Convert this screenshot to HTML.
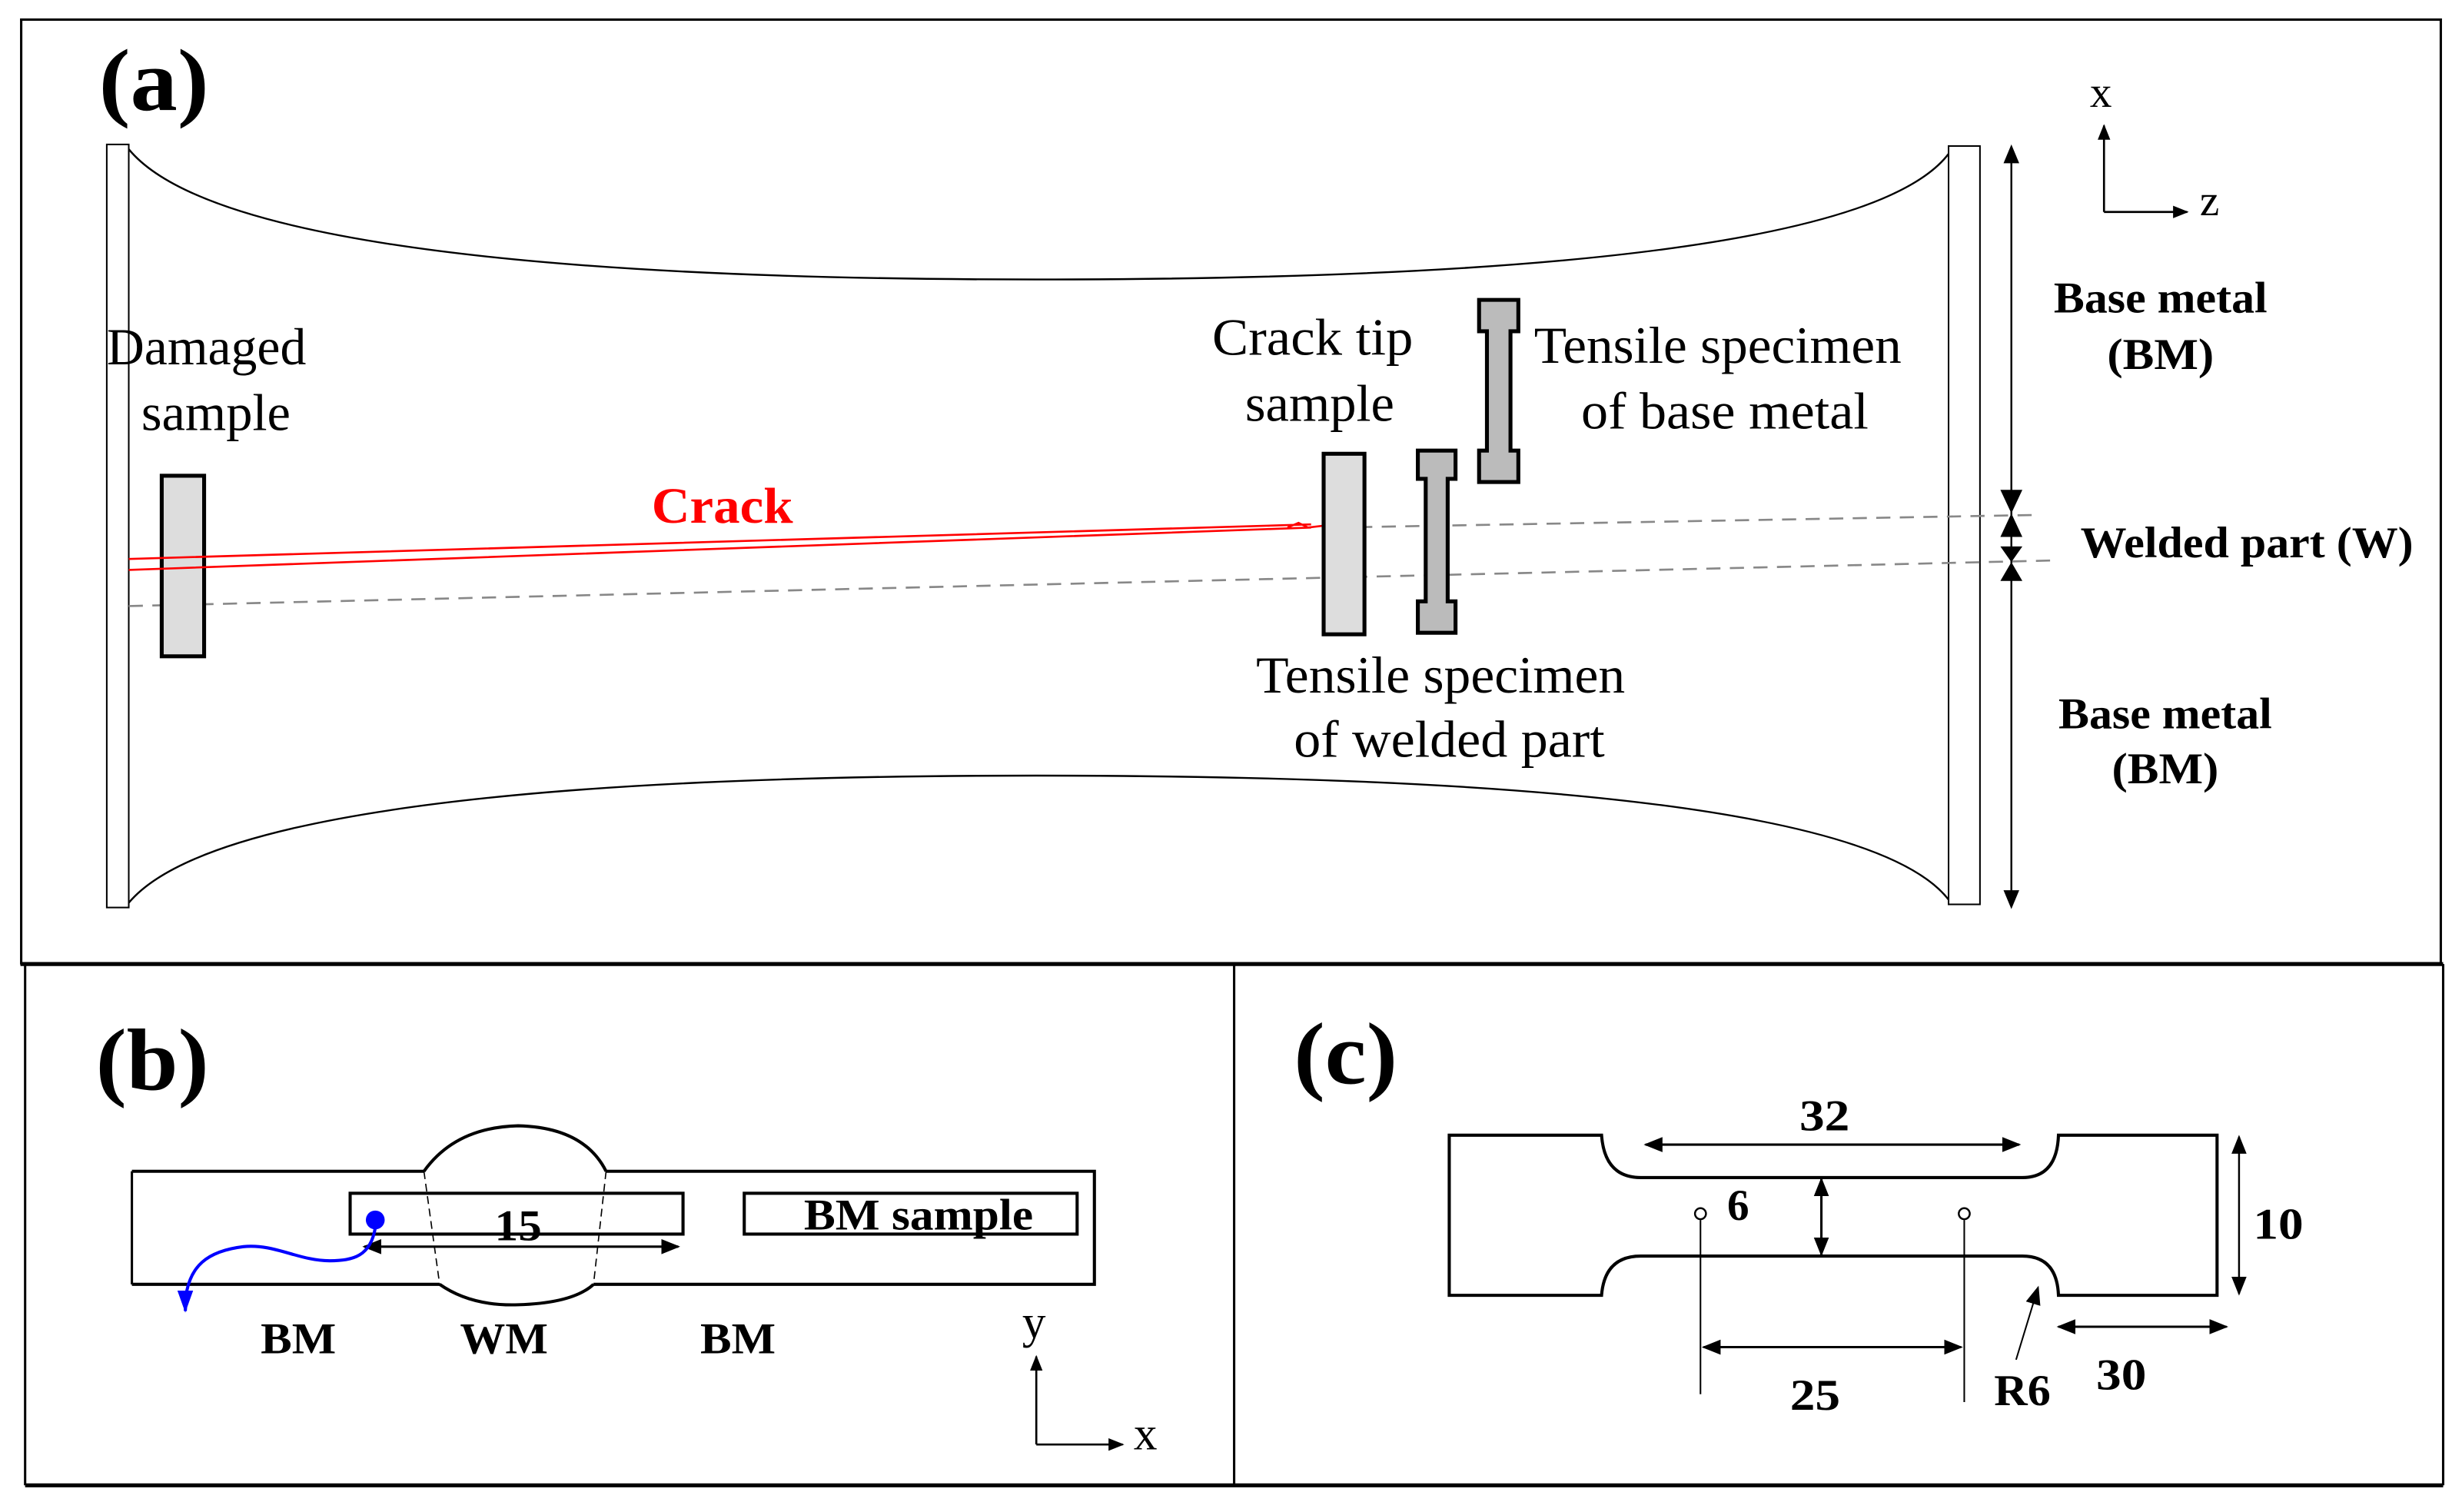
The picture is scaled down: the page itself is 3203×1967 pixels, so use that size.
<!DOCTYPE html>
<html><head><meta charset="utf-8"><style>
html,body{margin:0;padding:0;background:#fff;}
svg{display:block;}
text{font-family:"Liberation Serif",serif;}
.b{font-weight:bold;}
</style></head><body>
<svg width="3203" height="1967" viewBox="0 0 1568 963" preserveAspectRatio="none" xmlns="http://www.w3.org/2000/svg">
<defs>
<marker id="ah" viewBox="0 0 10 10" refX="9" refY="5" markerWidth="12" markerHeight="12" markerUnits="userSpaceOnUse" orient="auto-start-reverse"><path d="M0,1 L10,5 L0,9 Z" fill="#000"/></marker>
<marker id="ahs" viewBox="0 0 10 10" refX="9" refY="5" markerWidth="10" markerHeight="10" markerUnits="userSpaceOnUse" orient="auto-start-reverse"><path d="M0,1 L10,5 L0,9 Z" fill="#000"/></marker>
</defs>
<rect width="1568" height="963" fill="#fff"/>
<!-- panel a -->
<rect x="13.5" y="12.5" width="1541" height="601" fill="none" stroke="#000" stroke-width="1.5"/>
<line x1="13" y1="614" x2="1556" y2="614" stroke="#000" stroke-width="2.5"/>
<text x="63" y="70" font-size="56" class="b" textLength="70" lengthAdjust="spacingAndGlyphs">(a)</text>
<rect x="68" y="92" width="14" height="486" fill="#fff" stroke="#000" stroke-width="1"/>
<rect x="1241" y="93" width="20" height="483" fill="#fff" stroke="#000" stroke-width="1"/>
<path d="M82,95 Q150,178 660,178 Q1180,178 1241,98" fill="none" stroke="#000" stroke-width="1.2"/>
<path d="M82,575 Q150,494 660,494 Q1180,494 1241,573" fill="none" stroke="#000" stroke-width="1.2"/>
<line x1="82" y1="386" x2="1306" y2="357" stroke="#888" stroke-width="1.3" stroke-dasharray="9,6"/>
<line x1="850" y1="336" x2="1296" y2="328" stroke="#888" stroke-width="1.3" stroke-dasharray="9,6"/>
<rect x="103" y="303" width="27" height="115" fill="#ddd" stroke="#000" stroke-width="2.5"/>
<path d="M82,356 L835,334 M82,363 L835,336 M820,336 L827,333 L833,336 L850,334" fill="none" stroke="#f00" stroke-width="1.3"/>
<text x="415" y="333" font-size="32" class="b" fill="#f00" textLength="90" lengthAdjust="spacingAndGlyphs">Crack</text>
<text x="68" y="232" font-size="33" textLength="127" lengthAdjust="spacingAndGlyphs">Damaged</text>
<text x="90" y="274" font-size="33" textLength="95" lengthAdjust="spacingAndGlyphs">sample</text>
<rect x="843" y="289" width="26" height="115" fill="#ddd" stroke="#000" stroke-width="2.5"/>
<path d="M903,287 H927 V305 H922 V383 H927 V403 H903 V383 H908 V305 H903 Z" fill="#bbb" stroke="#000" stroke-width="2.5"/>
<path d="M942,191 H967 V211 H962 V287 H967 V307 H942 V287 H947 V211 H942 Z" fill="#bbb" stroke="#000" stroke-width="2.5"/>
<text x="772" y="226" font-size="33" textLength="128" lengthAdjust="spacingAndGlyphs">Crack  tip</text>
<text x="793" y="268" font-size="33" textLength="95" lengthAdjust="spacingAndGlyphs">sample</text>
<text x="977" y="231" font-size="33" textLength="234" lengthAdjust="spacingAndGlyphs">Tensile specimen</text>
<text x="1007" y="273" font-size="33" textLength="183" lengthAdjust="spacingAndGlyphs">of base metal</text>
<text x="800" y="441" font-size="33" textLength="235" lengthAdjust="spacingAndGlyphs">Tensile specimen</text>
<text x="824" y="482" font-size="33" textLength="198" lengthAdjust="spacingAndGlyphs">of welded part</text>
<!-- dimension bar -->
<line x1="1281" y1="95" x2="1281" y2="576" stroke="#000" stroke-width="1.2"/>
<path d="M1281,92 L1276,104 L1286,104 Z M1281,579 L1276,567 L1286,567 Z" fill="#000"/>
<path d="M1274,312 L1288,312 L1281,327 Z M1274,342 L1288,342 L1281,327 Z M1274,348 L1288,348 L1281,358 Z M1274,370 L1288,370 L1281,358 Z" fill="#000"/>
<!-- axes -->
<line x1="1340" y1="135" x2="1340" y2="80" stroke="#000" stroke-width="1.3" marker-end="url(#ahs)"/>
<line x1="1340" y1="135" x2="1393" y2="135" stroke="#000" stroke-width="1.3" marker-end="url(#ahs)"/>
<text x="1331" y="68" font-size="28">x</text>
<text x="1401" y="137" font-size="28">z</text>
<text x="1376" y="199" font-size="28" class="b" text-anchor="middle" textLength="136" lengthAdjust="spacingAndGlyphs">Base metal</text>
<text x="1376" y="235" font-size="28" class="b" text-anchor="middle" textLength="68" lengthAdjust="spacingAndGlyphs">(BM)</text>
<text x="1431" y="355" font-size="28" class="b" text-anchor="middle" textLength="212" lengthAdjust="spacingAndGlyphs">Welded part (W)</text>
<text x="1379" y="464" font-size="28" class="b" text-anchor="middle" textLength="136" lengthAdjust="spacingAndGlyphs">Base metal</text>
<text x="1379" y="499" font-size="28" class="b" text-anchor="middle" textLength="68" lengthAdjust="spacingAndGlyphs">(BM)</text>
<!-- panels b, c -->
<line x1="16" y1="614" x2="16" y2="946" stroke="#000" stroke-width="1.5"/>
<line x1="786" y1="614" x2="786" y2="946" stroke="#000" stroke-width="1.5"/>
<line x1="1556" y1="614" x2="1556" y2="946" stroke="#000" stroke-width="1.5"/>
<line x1="16" y1="946" x2="1556" y2="946" stroke="#000" stroke-width="2.5"/>
<text x="61" y="694" font-size="56" class="b" textLength="72" lengthAdjust="spacingAndGlyphs">(b)</text>
<text x="824" y="690" font-size="56" class="b" textLength="66" lengthAdjust="spacingAndGlyphs">(c)</text>
<!-- b -->
<path d="M84,746 H270 M386,746 H697 V818 H378 M280,818 H84 Z" fill="none" stroke="#000" stroke-width="2"/>
<path d="M84,746 V818" stroke="#000" stroke-width="1.5"/>
<path d="M270,746 Q290,718 330,717 Q372,718 386,746" fill="none" stroke="#000" stroke-width="2"/>
<path d="M280,818 Q300,832 330,831 Q365,830 378,818" fill="none" stroke="#000" stroke-width="2"/>
<path d="M270,746 L280,818 M386,746 L378,818" stroke="#000" stroke-width="0.8" stroke-dasharray="5,3"/>
<rect x="223" y="760" width="212" height="26" fill="none" stroke="#000" stroke-width="2"/>
<rect x="474" y="760" width="212" height="26" fill="none" stroke="#000" stroke-width="2"/>
<text x="585" y="783" font-size="28" class="b" text-anchor="middle" textLength="146" lengthAdjust="spacingAndGlyphs">BM sample</text>
<text x="330" y="790" font-size="28" class="b" text-anchor="middle" textLength="30" lengthAdjust="spacingAndGlyphs">15</text>
<line x1="232" y1="794" x2="432" y2="794" stroke="#000" stroke-width="1.5" marker-start="url(#ah)" marker-end="url(#ah)"/>
<circle cx="239" cy="777" r="6" fill="#00f"/>
<path d="M239,782 C236,800 225,803 210,803 C190,803 175,792 155,794 C130,797 122,808 119,822 L118,835" fill="none" stroke="#00f" stroke-width="2"/>
<path d="M113,822 L123,822 L118,836 Z" fill="#00f"/>
<text x="190" y="862" font-size="28" class="b" text-anchor="middle" textLength="48" lengthAdjust="spacingAndGlyphs">BM</text>
<text x="321" y="862" font-size="28" class="b" text-anchor="middle" textLength="56" lengthAdjust="spacingAndGlyphs">WM</text>
<text x="470" y="862" font-size="28" class="b" text-anchor="middle" textLength="48" lengthAdjust="spacingAndGlyphs">BM</text>
<line x1="660" y1="920" x2="660" y2="864" stroke="#000" stroke-width="1.3" marker-end="url(#ahs)"/>
<line x1="660" y1="920" x2="715" y2="920" stroke="#000" stroke-width="1.3" marker-end="url(#ahs)"/>
<text x="651" y="852" font-size="30">y</text>
<text x="722" y="923" font-size="30">x</text>
<!-- c -->
<path d="M923,723 H1020 Q1022,750 1045,750 H1288 Q1310,750 1311,723 H1412 V825 H1311 Q1310,800 1288,800 H1045 Q1022,800 1020,825 H923 Z" fill="none" stroke="#000" stroke-width="2"/>
<line x1="1048" y1="729" x2="1286" y2="729" stroke="#000" stroke-width="1.5" marker-start="url(#ah)" marker-end="url(#ah)"/>
<text x="1162" y="720" font-size="28" class="b" text-anchor="middle" textLength="32" lengthAdjust="spacingAndGlyphs">32</text>
<line x1="1160" y1="751" x2="1160" y2="799" stroke="#000" stroke-width="1.5" marker-start="url(#ah)" marker-end="url(#ah)"/>
<text x="1107" y="777" font-size="28" class="b" text-anchor="middle">6</text>
<circle cx="1083" cy="773" r="3.5" fill="#fff" stroke="#000" stroke-width="1.2"/>
<circle cx="1251" cy="773" r="3.5" fill="#fff" stroke="#000" stroke-width="1.2"/>
<line x1="1083" y1="777" x2="1083" y2="888" stroke="#000" stroke-width="1"/>
<line x1="1251" y1="777" x2="1251" y2="893" stroke="#000" stroke-width="1"/>
<line x1="1085" y1="858" x2="1249" y2="858" stroke="#000" stroke-width="1.5" marker-start="url(#ah)" marker-end="url(#ah)"/>
<text x="1156" y="898" font-size="28" class="b" text-anchor="middle" textLength="32" lengthAdjust="spacingAndGlyphs">25</text>
<line x1="1426" y1="724" x2="1426" y2="824" stroke="#000" stroke-width="1.2" marker-start="url(#ah)" marker-end="url(#ah)"/>
<text x="1451" y="789" font-size="28" class="b" text-anchor="middle" textLength="32" lengthAdjust="spacingAndGlyphs">10</text>
<line x1="1311" y1="845" x2="1418" y2="845" stroke="#000" stroke-width="1.5" marker-start="url(#ah)" marker-end="url(#ah)"/>
<text x="1351" y="885" font-size="28" class="b" text-anchor="middle" textLength="32" lengthAdjust="spacingAndGlyphs">30</text>
<line x1="1284" y1="866" x2="1298" y2="820" stroke="#000" stroke-width="1" marker-end="url(#ah)"/>
<text x="1288" y="895" font-size="28" class="b" text-anchor="middle" textLength="36" lengthAdjust="spacingAndGlyphs">R6</text>
</svg>
</body></html>
